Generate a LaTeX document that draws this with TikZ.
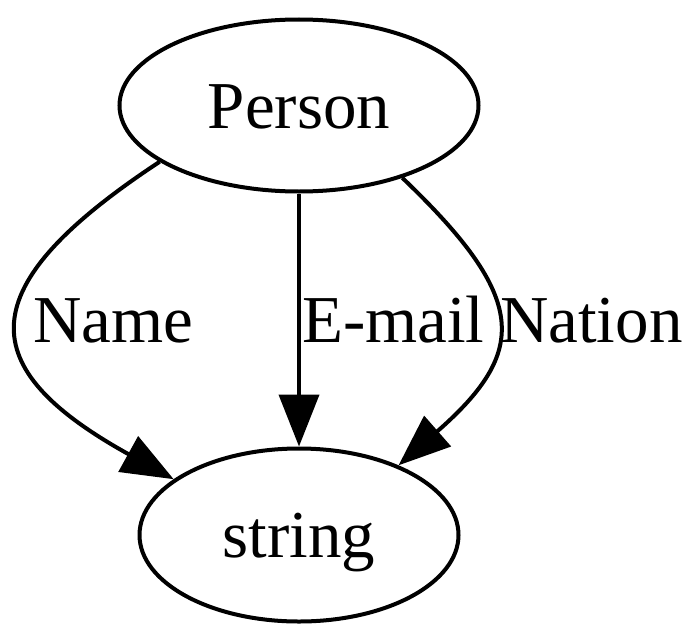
\documentclass[tikz,border=0pt]{standalone}
\usepackage{fontspec}
\setmainfont{Liberation Serif}
\usetikzlibrary{shapes.geometric,arrows.meta}

\begin{document}
\begin{tikzpicture}
    [x=1pt,y=-1pt,
    font=\fontsize{67}{80}\selectfont,
    node/.style={shape=ellipse,draw=black,line width=4pt,inner sep=0pt,text height=45pt,text depth=0pt},
    lbl/.style={inner sep=0pt,anchor=base west},
    arc/.style={->,>={Triangle[length=52pt,width=40pt]},line width=4pt}]

    \useasboundingbox (0,0) rectangle (700,642);

    \node (person) [node,minimum width=359pt,minimum height=172pt] at (299,105.5) {Person};
    \node (string) [node,minimum width=319pt,minimum height=173pt] at (299,535) {string};

    \node (name) [lbl] at (33,342) {Name};
    \node (email) [lbl] at (302,342) {E-mail};
    \node (nation) [lbl] at (500,342) {Nation};

    \draw [arc] (person.202.8) .. controls (-32,288) and (-27,368) .. (string.156.1);
    \draw [arc] (person.south) to (string.north);
    \draw [arc] (person.325.1) .. controls (528,298) and (529,351) .. (string.35.3);

\end{tikzpicture}
\end{document}
